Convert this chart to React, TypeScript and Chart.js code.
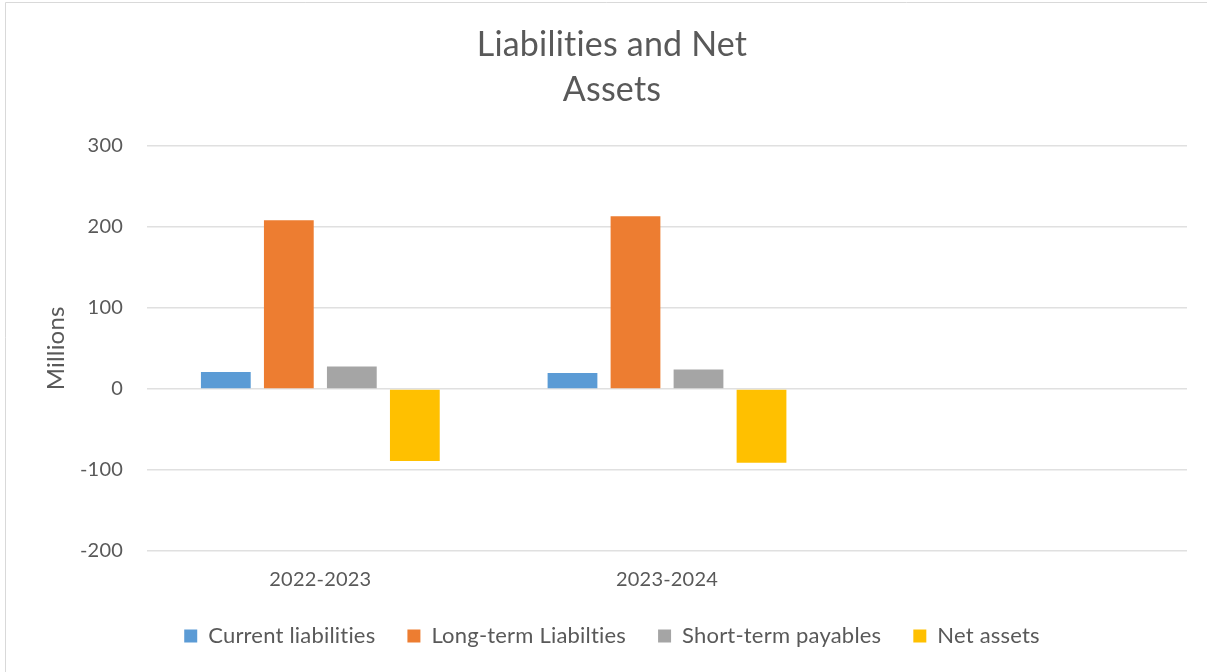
import React, { useEffect, useRef } from "react";
import { Chart, registerables } from "chart.js";

Chart.register(...registerables);

const categories = ["2022-2023", "2023-2024", ""];
const seriesNames = ["Current liabilities", "Long-term Liabilties", "Short-term payables", "Net assets"];
const currentLiabilities = [21, 19.5, null];
const longTermLiabilities = [208, 213, null];
const shortTermPayables = [27.5, 24, null];
const netAssets = [-89, -91, null];
const seriesColors = ["#5B9BD5", "#ED7D31", "#A5A5A5", "#FFC000"];
const titleLines = ["Liabilities and Net", "Assets"];
const yAxisTitle = "Millions";
const yMin = -200;
const yMax = 300;
const yStep = 100;

const FONT = "Lato, 'Open Sans', sans-serif";
const TEXT = "#595959";

const setSpacing = (chart: any) => {
  const ctx = chart.ctx as any;
  if (ctx && "letterSpacing" in ctx) ctx.letterSpacing = "0.2px";
};

const frame = {
  id: "frame",
  beforeUpdate(chart: any) {
    setSpacing(chart);
  },
  beforeLayout(chart: any) {
    setSpacing(chart);
  },
  beforeDraw(chart: any) {
    setSpacing(chart);
    const ctx = chart.ctx;
    ctx.save();
    ctx.fillStyle = "#ffffff";
    ctx.fillRect(0, 0, chart.width, chart.height);
    ctx.strokeStyle = "#d9d9d9";
    ctx.lineWidth = 1;
    ctx.beginPath();
    ctx.moveTo(5.5, chart.height);
    ctx.lineTo(5.5, 2.5);
    ctx.lineTo(chart.width, 2.5);
    ctx.stroke();
    ctx.restore();
  },
};

export default function App() {
  const ref = useRef<HTMLCanvasElement | null>(null);
  useEffect(() => {
    document.body.style.margin = "0";
    const values = [currentLiabilities, longTermLiabilities, shortTermPayables, netAssets];
    const chart = new Chart(ref.current as HTMLCanvasElement, {
      type: "bar",
      data: {
        labels: categories,
        datasets: seriesNames.map((name, i) => ({
          label: name,
          data: values[i],
          backgroundColor: seriesColors[i],
          borderWidth: 0,
          categoryPercentage: 0.727,
          barPercentage: 0.79,
        })),
      },
      options: {
        responsive: false,
        animation: false,
        devicePixelRatio: 1,
        layout: { padding: { top: 23, left: 37, right: 20, bottom: 15 } },
        plugins: {
          title: {
            display: true,
            text: titleLines,
            color: TEXT,
            font: { family: FONT, size: 34, weight: "normal", lineHeight: 1.32 },
            padding: { top: 0, bottom: 33 },
          },
          legend: {
            display: true,
            position: "bottom",
            labels: {
              boxWidth: 13,
              boxHeight: 13,
              padding: 32,
              color: TEXT,
              font: { family: FONT, size: 22 },
            },
          },
          tooltip: { enabled: false },
        },
        scales: {
          x: {
            grid: { display: false, drawTicks: false },
            border: { display: false },
            ticks: { color: TEXT, font: { family: FONT, size: 20 }, padding: 17 },
            afterFit: (s: any) => {
              s.height = 42;
            },
          },
          y: {
            min: yMin,
            max: yMax,
            ticks: { stepSize: yStep, color: TEXT, font: { family: FONT, size: 20 }, padding: 24 },
            grid: { color: "#e0e0e0", lineWidth: 1.5, drawTicks: false },
            border: { display: false },
            title: {
              display: true,
              text: yAxisTitle,
              color: TEXT,
              font: { family: FONT, size: 24 },
              padding: { top: 5, bottom: 0 },
            },
            afterFit: (s: any) => {
              s.width = 110;
            },
          },
        },
      },
      plugins: [frame],
    });
    return () => chart.destroy();
  }, []);
  return (
    <div style={{ width: 1207, height: 672 }}>
      <canvas ref={ref} width={1207} height={672} style={{ display: "block" }} />
    </div>
  );
}
